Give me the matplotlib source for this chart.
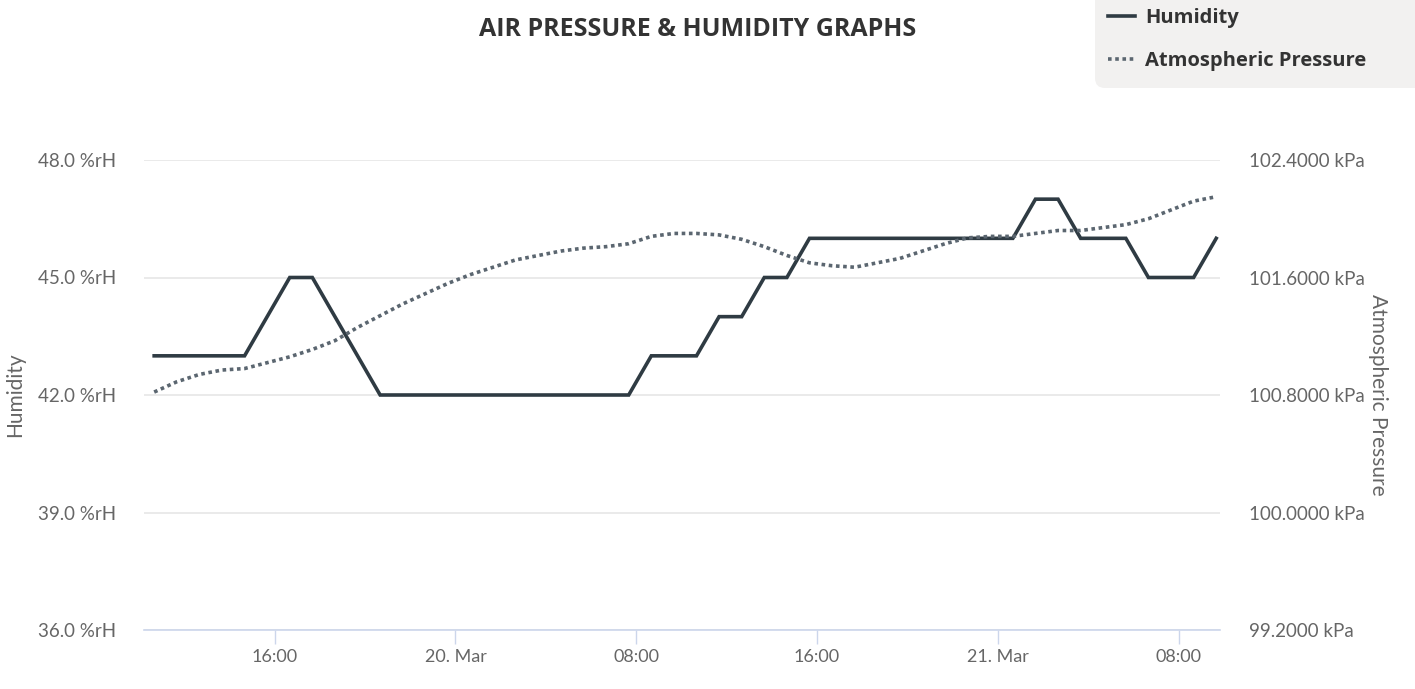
import numpy as np
import pandas as pd
import matplotlib
matplotlib.use("Agg")
import matplotlib.pyplot as plt
from matplotlib.patches import FancyBboxPatch
from matplotlib.transforms import IdentityTransform

plt.rcParams['font.family'] = ['Lato', 'DejaVu Sans']

# hourly readings, 19 Mar 10:40 -> 21 Mar 09:40
times = pd.date_range("2024-03-19 10:40", periods=48, freq="h")

humidity = [43, 43, 43, 43, 43, 44, 45, 45, 44, 43, 42,
            42, 42, 42, 42, 42, 42, 42, 42, 42, 42, 42,
            43, 43, 43, 44, 44, 45, 45,
            46, 46, 46, 46, 46, 46, 46, 46, 46, 46,
            47, 47, 46, 46, 46, 45, 45, 45, 46]

pressure = [100.82, 100.89, 100.94, 100.97, 100.98, 101.02, 101.06, 101.11,
            101.17, 101.26, 101.34, 101.42, 101.49, 101.56, 101.62, 101.67,
            101.72, 101.75, 101.78, 101.80, 101.81, 101.83, 101.88, 101.90,
            101.90, 101.89, 101.86, 101.81, 101.75, 101.70, 101.68, 101.67,
            101.70, 101.73, 101.78, 101.83, 101.87, 101.88, 101.88, 101.90,
            101.92, 101.92, 101.94, 101.96, 102.00, 102.06, 102.12, 102.15]

hum_ticks = [36, 39, 42, 45, 48]
pres_ticks = [99.2, 100.0, 100.8, 101.6, 102.4]
x_ticks = ["2024-03-19 16:00", "2024-03-20 00:00", "2024-03-20 08:00",
           "2024-03-20 16:00", "2024-03-21 00:00", "2024-03-21 08:00"]
x_labels = ["16:00", "20. Mar", "08:00", "16:00", "21. Mar", "08:00"]

grey = "#666666"
dark = "#333333"
bold_font = ['Open Sans', 'DejaVu Sans']

W, H = 1415, 689
fig = plt.figure(figsize=(W / 100, H / 100), dpi=100)
ax = fig.add_axes([144 / W, 1 - 630 / H, (1220 - 144) / W, 470 / H])
ax2 = ax.twinx()

ln1, = ax.plot(times, humidity, color="#2f3b43", lw=2.6, solid_joinstyle="miter",
               label="Humidity", zorder=3)
ln2, = ax2.plot(times, pressure, color="#5b6670", lw=2.6, linestyle=(0, (1, 1)),
                label="Atmospheric Pressure", zorder=2)

ax.set_ylim(36, 48)
ax2.set_ylim(99.2, 102.4)
ax.set_xlim(pd.Timestamp("2024-03-19 10:13"), pd.Timestamp("2024-03-21 09:50"))

ax.set_yticks(hum_ticks)
ax.set_yticklabels([f"{v:.1f} %rH" for v in hum_ticks])
ax2.set_yticks(pres_ticks)
ax2.set_yticklabels([f"{v:.4f} kPa" for v in pres_ticks])
ax.set_xticks([pd.Timestamp(t) for t in x_ticks])
ax.set_xticklabels(x_labels)

ax.grid(axis="y", color="#e6e6e6", lw=1.2)
ax.set_axisbelow(True)
for a in (ax, ax2):
    for s in a.spines.values():
        s.set_visible(False)
ax.spines["bottom"].set_visible(True)
ax.spines["bottom"].set_color("#ccd6eb")
ax.spines["bottom"].set_linewidth(1.2)

ax.tick_params(axis="x", colors="#ccd6eb", length=10, width=1, labelcolor=grey,
               labelsize=13, pad=4)
ax.tick_params(axis="y", length=0, labelcolor=grey, labelsize=13.5, pad=20)
ax2.tick_params(axis="y", length=0, labelcolor=grey, labelsize=13.5, pad=21)

ax.set_ylabel("Humidity", color=grey, fontsize=15, va="center")
ax2.set_ylabel("Atmospheric Pressure", color=grey, fontsize=15,
               rotation=270, va="center")
ax.yaxis.set_label_coords(-129 / 1076, 0.5)
ax2.yaxis.set_label_coords(1 + 158 / 1076, 0.5)

fig.text(698 / W, 1 - 30 / H, "AIR PRESSURE & HUMIDITY GRAPHS", ha="center",
         va="center", fontsize=18, fontweight="bold", color=dark, family=bold_font)

# legend background box in the top right corner
bg = FancyBboxPatch((1095, H - 88), 360, 140, boxstyle="round,pad=0,rounding_size=10",
                    facecolor="#f2f1f0", edgecolor="none", transform=IdentityTransform())
fig.add_artist(bg)

leg = fig.legend([ln1, ln2], ["Humidity", "Atmospheric Pressure"], loc="upper left",
                 bbox_to_anchor=(1108 / W, 1 - 8 / H), frameon=False,
                 prop={"weight": "bold", "size": 14.5, "family": bold_font},
                 handlelength=1.35, handletextpad=0.5, labelspacing=1.15,
                 borderpad=0, borderaxespad=0)
for t in leg.get_texts():
    t.set_color(dark)

fig.savefig("out.png", dpi=100)
